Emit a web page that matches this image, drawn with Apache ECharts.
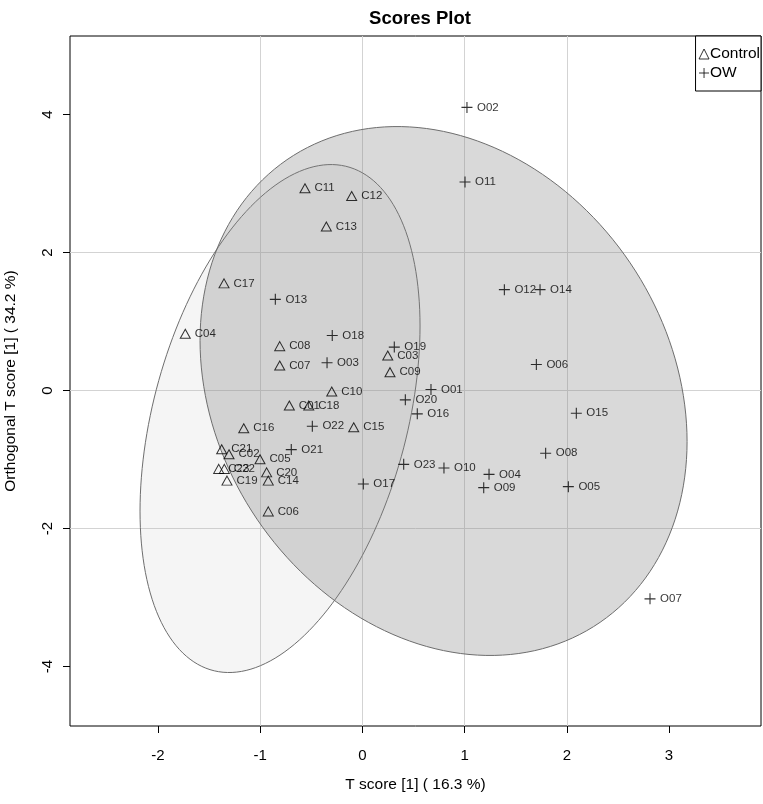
<!DOCTYPE html>
<html>
<head>
<meta charset="utf-8">
<script src="https://cdn.jsdelivr.net/npm/echarts@6/dist/echarts.min.js"></script>
<style>html,body{margin:0;padding:0;background:#fff}#c{width:763px;height:804px}</style>
</head>
<body>
<div id="c"></div>
<script>
// ---- data ----
const controlNames = ['C01','C02','C03','C04','C05','C06','C07','C08','C09','C10','C11','C12','C13','C14','C15','C16','C17','C18','C19','C20','C21','C22','C23'];
const controlX = [-0.715,-1.305,0.248,-1.733,-1.002,-0.921,-0.809,-0.809,0.270,-0.300,-0.562,-0.105,-0.353,-0.921,-0.085,-1.161,-1.354,-0.525,-1.325,-0.937,-1.377,-1.351,-1.406];
const controlY = [-0.218,-0.924,0.508,0.823,-0.997,-1.752,0.363,0.643,0.266,-0.015,2.932,2.820,2.376,-1.306,-0.532,-0.547,1.553,-0.218,-1.306,-1.186,-0.851,-1.136,-1.136];
const owNames = ['O01','O02','O03','O04','O05','O06','O07','O08','O09','O10','O11','O12','O13','O14','O15','O16','O17','O18','O19','O20','O21','O22','O23'];
const owX = [0.671,1.023,-0.346,1.239,2.015,1.702,2.814,1.793,1.187,0.798,1.004,1.389,-0.852,1.738,2.093,0.537,0.009,-0.295,0.312,0.420,-0.696,-0.490,0.404];
const owY = [0.015,4.103,0.402,-1.215,-1.393,0.377,-3.019,-0.910,-1.408,-1.122,3.023,1.462,1.321,1.462,-0.329,-0.338,-1.354,0.798,0.629,-0.135,-0.856,-0.518,-1.070];
// confidence ellipses: centre [x, y] and covariance [sxx, syy, sxy]
const controlEllipseCenter = [-0.806, -0.406];
const controlEllipseCov = [1.8765, 13.55, 1.837];
const owEllipseCenter = [0.794, -0.007];
const owEllipseCov = [5.677, 14.69, -1.744];
const xTicks = [-2, -1, 0, 1, 2, 3];
const yTicks = [-4, -2, 0, 2, 4];
const xRange = [-2.861, 3.900];
const yRange = [-4.862, 5.138];

// ---- chart ----
const FONT = '"Liberation Sans", Arial, Helvetica, sans-serif';
const chart = echarts.init(document.getElementById('c'), null, {renderer: 'canvas'});

function ellipseSeries(name, center, cov, fill) {
  return {
    name: name, type: 'custom', silent: true, clip: true, z: 1,
    data: [[center[0], center[1]]],
    renderItem: function (params, api) {
      const sx = Math.sqrt(cov[0]);
      const c = cov[2] / sx;
      const d = Math.sqrt(cov[1] - c * c);
      const pts = [];
      const n = 180;
      for (let k = 0; k < n; k++) {
        const t = 2 * Math.PI * k / n;
        pts.push(api.coord([center[0] + sx * Math.cos(t), center[1] + c * Math.cos(t) + d * Math.sin(t)]));
      }
      return {type: 'polygon', shape: {points: pts},
        style: {fill: fill, stroke: '#6e6e6e', lineWidth: 1}};
    }
  };
}

const labelStyle = {show: true, position: 'right', distance: 4, fontSize: 11.5, color: '#000', fontFamily: FONT, formatter: '{b}'};
const plusPath = 'path://M5,0L5,10M0,5L10,5';

const option = {
  backgroundColor: '#fff',
  animation: false,
  title: {
    text: 'Scores Plot', left: 415, top: 4, textAlign: 'center',
    textStyle: {fontSize: 18.5, fontWeight: 'bold', color: '#000', fontFamily: FONT}
  },
  legend: {
    orient: 'vertical', right: 2, top: 36,
    backgroundColor: '#fff', borderColor: '#000', borderWidth: 1, borderRadius: 0,
    padding: [10, 1, 10, 3], itemGap: 3, itemWidth: 10, itemHeight: 10,
    textStyle: {fontSize: 15.5, color: '#000', fontFamily: FONT, padding: [0, 0, 0, -4]},
    data: [
      {name: 'Control', icon: 'triangle', itemStyle: {color: 'rgba(0,0,0,0)', borderColor: '#000', borderWidth: 1}},
      {name: 'OW', icon: plusPath, itemStyle: {color: 'rgba(0,0,0,0)', borderColor: '#000', borderWidth: 1}}
    ]
  },
  grid: {left: 70, top: 36, right: 2, bottom: 78, show: true, borderColor: '#000', borderWidth: 1,
    backgroundColor: 'rgba(0,0,0,0)', containLabel: false, outerBoundsMode: 'none'},
  xAxis: {
    type: 'value', min: xRange[0], max: xRange[1],
    name: 'T score [1] ( 16.3 %)', nameLocation: 'middle', nameGap: 51,
    nameTextStyle: {fontSize: 15.5, color: '#000', fontFamily: FONT},
    axisLine: {show: false, onZero: false},
    axisTick: {show: true, length: 7, lineStyle: {color: '#000'}, customValues: xTicks},
    axisLabel: {customValues: xTicks, margin: 22, fontSize: 15, color: '#000', fontFamily: FONT},
    splitLine: {show: true, showMinLine: false, showMaxLine: false, lineStyle: {color: '#d3d3d3', width: 1}}
  },
  yAxis: {
    type: 'value', min: yRange[0], max: yRange[1],
    name: 'Orthogonal T score [1] ( 34.2 %)', nameLocation: 'middle', nameGap: 51,
    nameTextStyle: {fontSize: 15.5, color: '#000', fontFamily: FONT},
    axisLine: {show: false, onZero: false},
    axisTick: {show: true, length: 7, lineStyle: {color: '#000'}, customValues: yTicks},
    axisLabel: {customValues: yTicks, rotate: 90, margin: 15, fontSize: 15, color: '#000', fontFamily: FONT},
    splitLine: {show: true, showMinLine: false, showMaxLine: false, lineStyle: {color: '#d3d3d3', width: 1}}
  },
  series: [
    ellipseSeries('ctrlEllipse', controlEllipseCenter, controlEllipseCov, 'rgba(190,190,190,0.15)'),
    ellipseSeries('owEllipse', owEllipseCenter, owEllipseCov, 'rgba(128,128,128,0.3)'),
    {
      name: 'Control', type: 'scatter', z: 3, symbol: 'triangle', symbolSize: [10, 9],
      itemStyle: {color: 'rgba(0,0,0,0)', borderColor: '#000', borderWidth: 1},
      label: labelStyle,
      data: controlNames.map((n, i) => ({name: n, value: [controlX[i], controlY[i]]}))
    },
    {
      name: 'OW', type: 'scatter', z: 3, symbol: plusPath, symbolSize: 11,
      itemStyle: {color: 'rgba(0,0,0,0)', borderColor: '#000', borderWidth: 1.1},
      label: labelStyle,
      data: owNames.map((n, i) => ({name: n, value: [owX[i], owY[i]]}))
    }
  ]
};
chart.setOption(option);
</script>
</body>
</html>
